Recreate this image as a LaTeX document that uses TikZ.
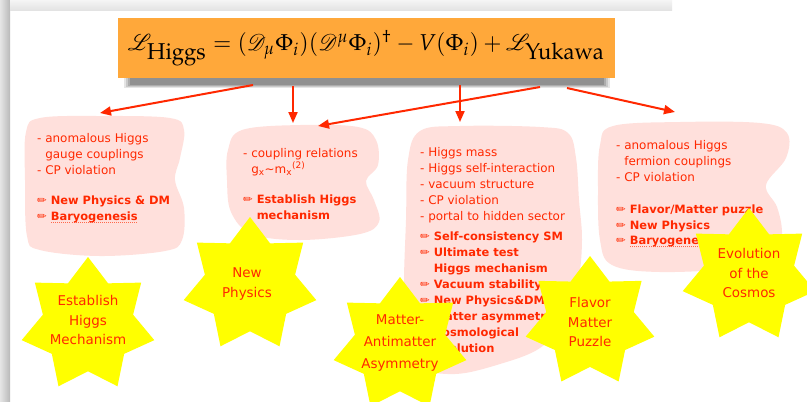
\documentclass[tikz,border=0pt]{standalone}
\usepackage{mathpazo}
\usepackage{mathrsfs}
\usepackage{graphicx}
\usepackage[no-math]{fontspec}
\setmainfont{DejaVu Sans}
\usetikzlibrary{arrows.meta}
\definecolor{txtred}{RGB}{255,40,0}
\definecolor{blobpink}{RGB}{255,224,220}
\definecolor{boxorange}{RGB}{255,168,58}
\definecolor{staryellow}{RGB}{255,255,0}
\newcommand\pen{{\mdseries\char"270F}}
\newcommand\bfb{\bfseries\fontsize{11.5}{16}\selectfont}
\newsavebox\dulbox
\newcommand\dotul[1]{\sbox\dulbox{#1}\rlap{\raisebox{-2.5bp}{\color{txtred!70}\hbox to \wd\dulbox{\xleaders\hbox to 2bp{\hss\rule{1bp}{1bp}\hss}\hfill}}}\usebox\dulbox}
\newcommand\sevenstar[3]{\fill[staryellow,shift={(#1,#2)}] (-90:#3) \foreach \k in {0,...,6}{ -- ({-90+(\k+0.5)*360/7}:{#3/1.47}) -- ({-90+(\k+1)*360/7}:#3)} -- cycle;}
\tikzset{
  blobtext/.style={anchor=north west, inner sep=0pt, align=left, text=txtred, font=\fontsize{12}{16}\selectfont},
  startext/.style={inner sep=0pt, align=center, text=txtred, font=\fontsize{13.5}{20}\selectfont},
  redarrow/.style={draw=txtred, line width=2bp, -{Triangle[length=11bp,width=9bp]}},
  blob/.style={fill=blobpink},
}
\begin{document}
\begin{tikzpicture}[x=1bp,y=-1bp]
\useasboundingbox (0,0) rectangle (807,401);
\clip (0,0) rectangle (807,401);
\fill[white] (0,0) rectangle (807,401);
% frame shadow
\fill[left color=gray!20, right color=gray!55] (0,0) rectangle (10,401);
\fill[top color=gray!8, bottom color=gray!22] (10,0) rectangle (672,10);
% box shadow
\foreach \i/\o in {0/0.10,2/0.12,4/0.14,6/0.16}{
  \fill[black,opacity=\o] (124+\i,66) rectangle (610-\i,88-\i/2);
}
% formula box
\node[fill=boxorange, minimum width=497bp, minimum height=60bp, inner sep=0pt] (lag) at (366.5,48)
  {\resizebox*{477bp}{35bp}{$\mathscr{L}_{\textstyle\mathrm{Higgs}}=(\mathscr{D}_{\mu}\Phi_{i})(\mathscr{D}^{\mu}\Phi_{i})^{\dagger}-V(\Phi_{i})+\mathscr{L}_{\textstyle\mathrm{Yukawa}}$}};
% blobs
\fill[blob] plot[smooth cycle, tension=0.6] coordinates {(26,132) (40,118) (100,116) (170,118) (184,130) (180,158) (175,180) (184,208) (182,240) (165,251) (100,256) (40,250) (27,236) (25,180)};
\fill[blob] plot[smooth cycle, tension=0.6] coordinates {(228,150) (242,130) (300,125) (358,127) (376,140) (378,165) (366,181) (374,200) (379,222) (360,234) (300,240) (252,234) (231,212) (227,180)};
\fill[blob] plot[smooth cycle, tension=0.6] coordinates {(408,160) (420,131) (460,126) (540,127) (568,133) (576,158) (579,200) (582,240) (578,282) (565,320) (540,348) (500,364) (455,374) (420,366) (405,330) (404,280) (406,220)};
\fill[blob] plot[smooth cycle, tension=0.6] coordinates {(600,145) (613,126) (680,122) (760,123) (787,133) (786,158) (766,185) (777,207) (782,232) (778,258) (740,268) (660,272) (612,265) (600,240) (598,190)};
% arrows
\coordinate (o1) at (253,85); \coordinate (e1) at (100,113);
\coordinate (o2) at (293,86); \coordinate (e2) at (293,123);
\coordinate (o3) at (460,85); \coordinate (e3) at (460,122);
\coordinate (o4) at (540,87); \coordinate (e4) at (318,126);
\coordinate (o5) at (567,88); \coordinate (e5) at (675,112);
\draw[redarrow] (o1) -- (e1);
\draw[redarrow] (o2) -- (e2);
\draw[redarrow] (o3) -- (e3);
\draw[redarrow] (o4) -- (e4);
\draw[redarrow] (o5) -- (e5);
% blob texts
\node[blobtext] (t1) at (37,133) {- anomalous Higgs\\\phantom{- }gauge couplings\\- CP violation\\[14bp]
  {\bfb\pen\ New Physics \& DM}\\{\bfb\pen\ \dotul{Baryogenesis}}};
\node[blobtext] (t2) at (243,148) {- coupling relations\\\phantom{- }g\textsubscript{x}\textasciitilde m\textsubscript{x}\textsuperscript{(2)}\\[14bp]
  {\bfb\pen\ Establish Higgs}\\{\bfb\phantom{\pen\ }mechanism}};
\node[blobtext] (t3) at (420,147) {- Higgs mass\\- Higgs self-interaction\\- vacuum structure\\- CP violation\\- portal to hidden sector\\[5bp]
  {\bfb\pen\ Self-consistency SM}\\{\bfb\pen\ Ultimate test}\\{\bfb\phantom{\pen\ }Higgs mechanism}\\{\bfb\pen\ Vacuum stability}\\{\bfb\pen\ New Physics\&DM}\\{\bfb\pen\ Matter asymmetry}\\{\bfb\pen\ Cosmological}\\{\bfb\phantom{\pen\ }evolution}};
\node[blobtext] (t4) at (616,140) {- anomalous Higgs\\\phantom{- }fermion couplings\\- CP violation\\[16bp]
  {\bfb\pen\ Flavor/Matter puzzle}\\{\bfb\pen\ New Physics}\\{\bfb\pen\ \dotul{Baryogenesis}}};
% stars
\sevenstar{88}{325}{68}
\sevenstar{250}{285}{68}
\sevenstar{400}{345}{68}
\sevenstar{590}{322}{66}
\sevenstar{749}{276}{68}
\node[startext] (s1) at (88,320) {Establish\\Higgs\\Mechanism};
\node[startext] (s2) at (247,284) {New\\Physics};
\node[startext, font=\fontsize{13.5}{22}\selectfont] (s3) at (400,343) {Matter-\\Antimatter\\Asymmetry};
\node[startext] (s4) at (590,322) {Flavor\\Matter\\Puzzle};
\node[startext] (s5) at (749,273) {Evolution\\of the\\Cosmos};
\end{tikzpicture}
\end{document}
